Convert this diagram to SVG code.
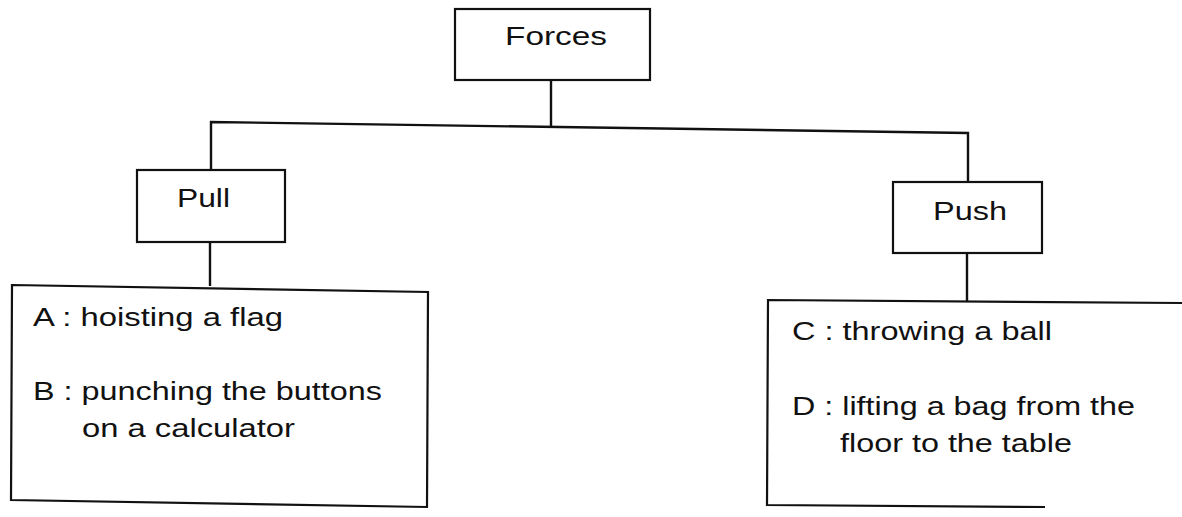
<svg xmlns="http://www.w3.org/2000/svg" width="1182" height="517" viewBox="0 0 1182 517">
<style>
.box{fill:none;stroke:#111;stroke-width:2.2}
.ln{fill:none;stroke:#111;stroke-width:2.4}
text{font-family:"Liberation Sans",Arial,sans-serif;font-size:26px;fill:#111}
</style>
<rect width="1182" height="517" fill="#fff"/>
<g id="connectors">
<path class="ln" d="M551,80 V127"/>
<path class="ln" d="M211,170 V122 L968,133 V182"/>
<path class="ln" d="M210,242 V286"/>
<path class="ln" d="M967,253 V301"/>
</g>
<g id="forces">
<rect class="box" x="455" y="9" width="195" height="71"/>
<text x="505" y="45" font-size="28" textLength="102" lengthAdjust="spacingAndGlyphs">Forces</text>
</g>
<g id="pull">
<rect class="box" x="137" y="170" width="148" height="72"/>
<text x="177" y="207" textLength="53" lengthAdjust="spacingAndGlyphs">Pull</text>
</g>
<g id="push">
<rect class="box" x="893" y="182" width="149" height="71"/>
<text x="933" y="220" textLength="74" lengthAdjust="spacingAndGlyphs">Push</text>
</g>
<g id="pull-examples">
<polygon class="box" points="12,285 428,292 427,507 11,500"/>
<text x="33" y="326" textLength="250" lengthAdjust="spacingAndGlyphs">A : hoisting a flag</text>
<text x="33" y="400" textLength="349" lengthAdjust="spacingAndGlyphs">B : punching the buttons</text>
<text x="82" y="437" textLength="213" lengthAdjust="spacingAndGlyphs">on a calculator</text>
</g>
<g id="push-examples">
<path class="box" d="M1182,303 L768,300 L767,505 L1045,507"/>
<text x="792" y="340" textLength="260" lengthAdjust="spacingAndGlyphs">C : throwing a ball</text>
<text x="792" y="415" textLength="343" lengthAdjust="spacingAndGlyphs">D : lifting a bag from the</text>
<text x="840" y="452" textLength="232" lengthAdjust="spacingAndGlyphs">floor to the table</text>
</g>
</svg>
